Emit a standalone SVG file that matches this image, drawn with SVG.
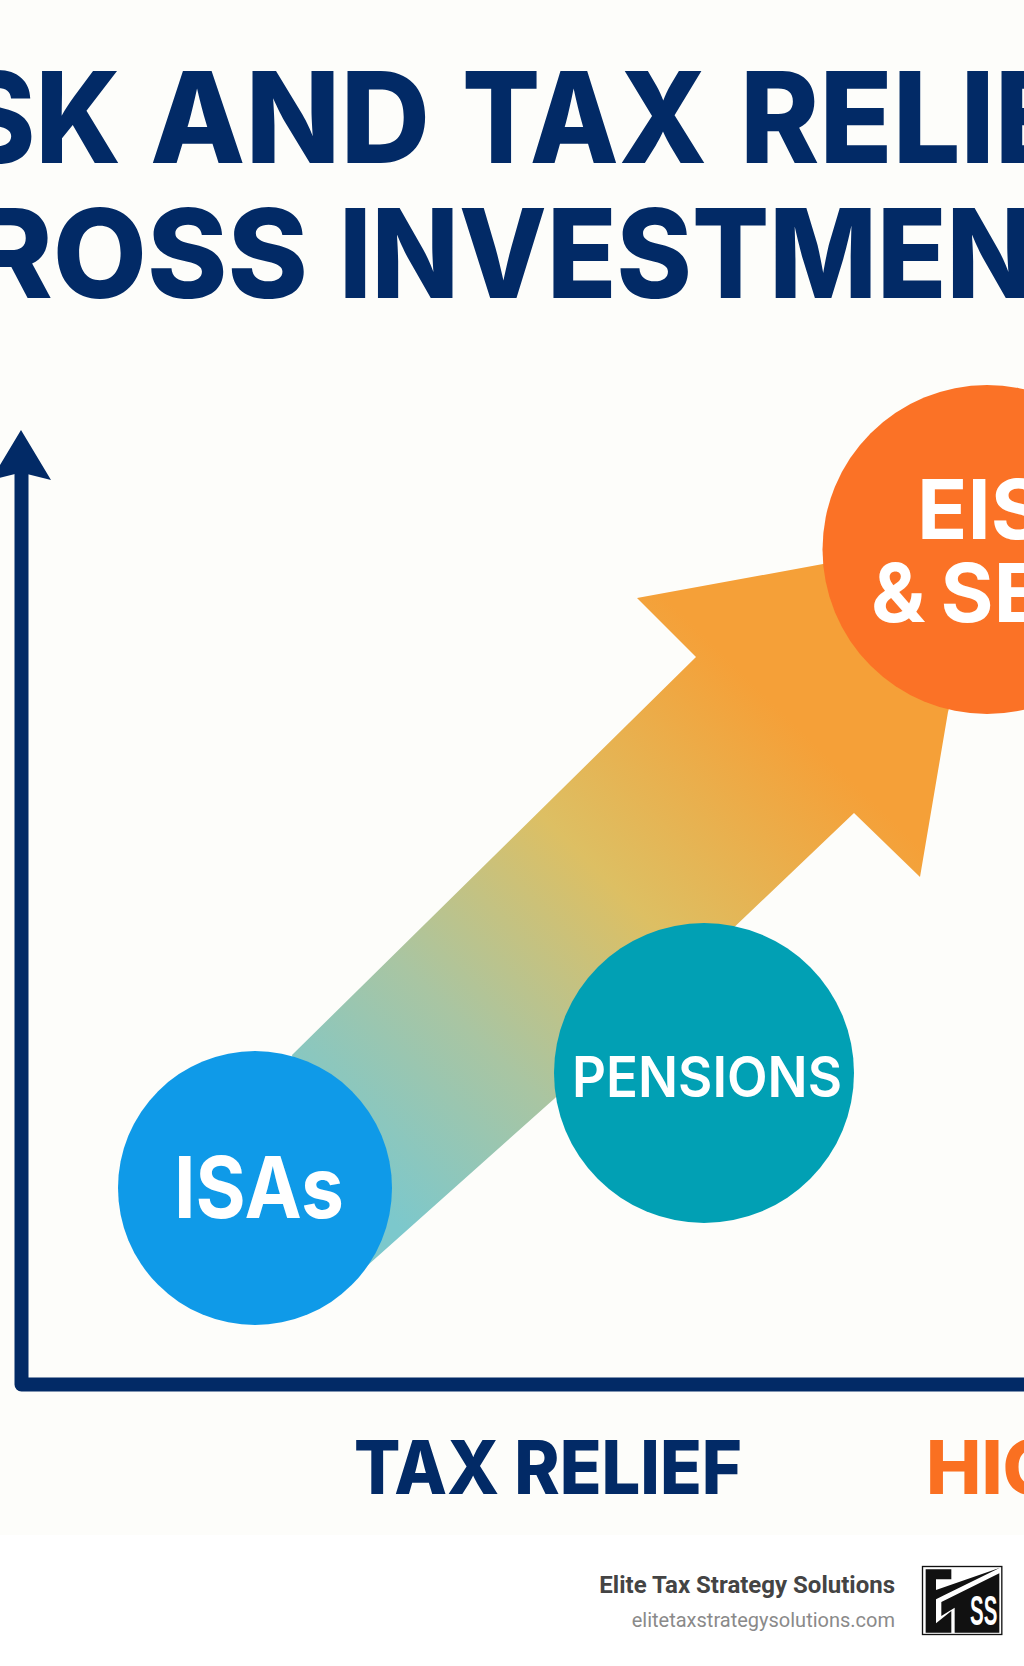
<svg xmlns="http://www.w3.org/2000/svg" width="1024" height="1666" viewBox="0 0 1024 1666">
<defs>
<linearGradient id="flow" gradientUnits="userSpaceOnUse" x1="340" y1="1170" x2="785" y2="715">
<stop offset="0" stop-color="#7CC8CC"/><stop offset="0.3" stop-color="#A9C5A2"/><stop offset="0.62" stop-color="#DDBF63"/><stop offset="1" stop-color="#F5A038"/>
</linearGradient>
</defs>
<style>
.t{font-family:Inter,"Liberation Sans",sans-serif;font-weight:800;fill:#022A66}
.n{font-family:Inter,"Liberation Sans",sans-serif;font-weight:700;fill:#fff}
</style>
<rect width="1024" height="1666" fill="#fff"/>
<rect width="1024" height="1535" fill="#FDFDFA"/>
<g id="title">
<text class="t" y="163" font-size="126" x="-41" textLength="162" lengthAdjust="spacingAndGlyphs">SK</text>
<text class="t" y="163" font-size="126" x="150" textLength="280" lengthAdjust="spacingAndGlyphs">AND</text>
<text class="t" y="163" font-size="126" x="462" textLength="245" lengthAdjust="spacingAndGlyphs">TAX</text>
<text class="t" y="163" font-size="126" x="740" textLength="328" lengthAdjust="spacingAndGlyphs">RELIE</text>
<text class="t" y="298" font-size="124" x="-28" textLength="336" lengthAdjust="spacingAndGlyphs">ROSS</text>
<text class="t" y="298" font-size="124" x="339" textLength="695" lengthAdjust="spacingAndGlyphs">INVESTMEN</text>
</g>
<g id="connectors">
<path id="flow-arrow" d="M292,1055 L696,657 L637,598 L823,564 L990,560 L948,712 L920,877 L854,813 L554,1099 L340,1290 Z" fill="url(#flow)"/>
<path id="axes" d="M21.5,468 V1384.5 H1040" fill="none" stroke="#022A66" stroke-width="14" stroke-linejoin="round"/>
<path id="y-arrowhead" d="M21,430 L51,480 L27,474 L15,474 L-9,480 Z" fill="#022A66"/>
</g>
<g id="node-isas"><circle cx="255" cy="1188" r="137" fill="#0F9AE8"/>
<text class="n" x="174" y="1218" font-size="85" textLength="170" lengthAdjust="spacingAndGlyphs">ISAs</text></g>
<g id="node-pensions"><circle cx="704" cy="1073" r="150" fill="#01A0B4"/>
<text class="n" x="572" y="1097" font-size="56" textLength="270" lengthAdjust="spacingAndGlyphs" style="font-weight:600">PENSIONS</text></g>
<g id="node-eis"><circle cx="987" cy="549.5" r="164.5" fill="#FB7226"/>
<text class="n" x="917" y="539" font-size="83">EIS</text>
<text class="n" x="871" y="622" font-size="81" word-spacing="-4">&amp; SE</text></g>
<g id="x-label">
<text class="t" x="354" y="1494" font-size="74" textLength="388" lengthAdjust="spacingAndGlyphs">TAX RELIEF</text>
<text class="t" x="926" y="1494" font-size="74" style="fill:#FA7021">HIG</text>
</g>
<g id="brand">
<text x="895" y="1593" text-anchor="end" font-family="Roboto,'Liberation Sans',sans-serif" font-weight="700" font-size="24" fill="#444">Elite Tax Strategy Solutions</text>
<text x="895" y="1627" text-anchor="end" font-family="Roboto,'Liberation Sans',sans-serif" font-size="20" fill="#8A8A8A">elitetaxstrategysolutions.com</text>
<g id="logo" transform="translate(924,1566) scale(0.3333)">
<rect x="-4.5" y="1.5" width="238" height="204" fill="#fff" stroke="#111" stroke-width="4"/>
<path d="M5,10 H82 V40 H36 V72 L228,5 L60,88 L36,100 V200 H5 Z" fill="#111"/>
<path d="M36,172 L82,135 V200 H36 Z" fill="#111"/>
<path d="M52,108 L226,22 V200 H92 V125 L52,150 Z" fill="#111"/>
<text x="138" y="176" font-family="'Liberation Sans Narrow','Liberation Sans',sans-serif" font-weight="700" font-size="127" textLength="82" lengthAdjust="spacingAndGlyphs" fill="#fff">SS</text>
</g>
</g>
</svg>
